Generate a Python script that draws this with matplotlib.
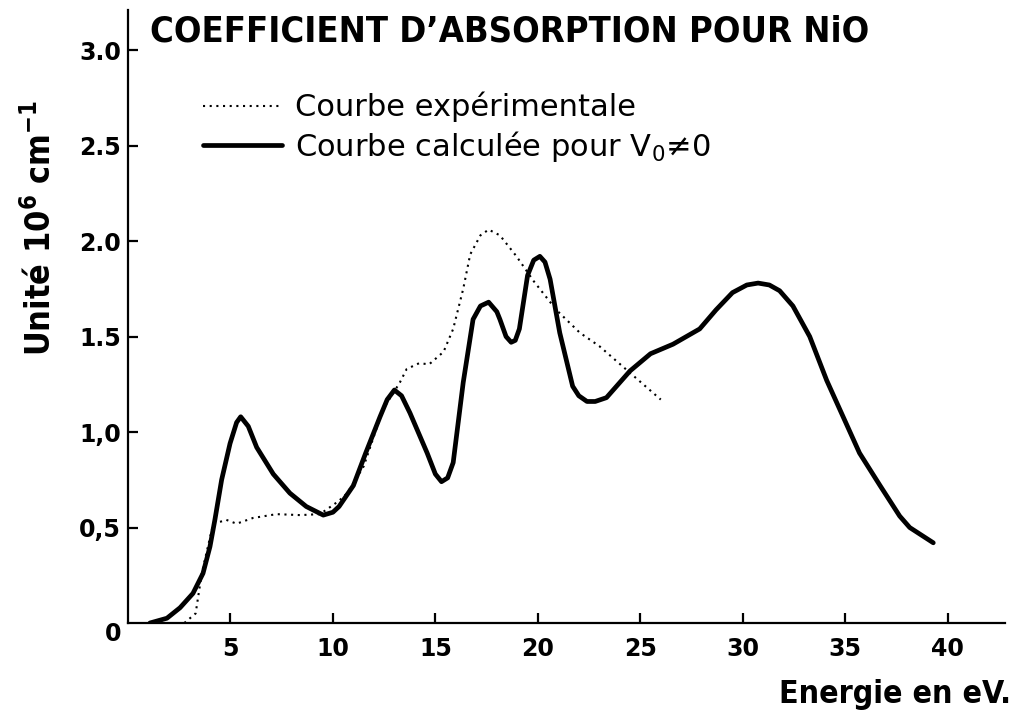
import matplotlib
matplotlib.use("Agg")
import matplotlib.pyplot as plt

# Absorption coefficient of NiO (units of 10^6 cm^-1) versus photon energy (eV)
calc_energy = [1.07, 1.9, 2.54, 3.17, 3.66, 4.0, 4.24, 4.57, 4.98, 5.3, 5.5, 5.87,
               6.28, 7.09, 7.9, 8.7, 9.53, 10.0, 10.3, 11.0, 11.6, 12.3, 12.65,
               13.0, 13.35, 13.76, 14.6, 15.0, 15.3, 15.6, 15.87, 16.36, 16.84,
               17.2, 17.6, 18.0, 18.15, 18.45, 18.7, 18.9, 19.1, 19.5, 19.8, 20.1,
               20.35, 20.6, 21.07, 21.7, 22.0, 22.4, 22.8, 23.35, 24.5, 25.5,
               26.6, 27.9, 28.7, 29.5, 30.2, 30.75, 31.3, 31.8, 32.45, 33.27,
               34.1, 34.9, 35.7, 36.7, 37.66, 38.15, 39.3]
calc_alpha = [0.0, 0.025, 0.08, 0.155, 0.26, 0.40, 0.54, 0.75, 0.94, 1.05, 1.08, 1.03,
              0.92, 0.78, 0.68, 0.61, 0.565, 0.58, 0.61, 0.72, 0.89, 1.08, 1.17,
              1.22, 1.19, 1.10, 0.89, 0.78, 0.74, 0.76, 0.84, 1.26, 1.59,
              1.66, 1.68, 1.63, 1.59, 1.50, 1.47, 1.48, 1.54, 1.82, 1.90, 1.92,
              1.89, 1.80, 1.52, 1.24, 1.19, 1.16, 1.16, 1.18, 1.32, 1.41,
              1.46, 1.54, 1.64, 1.73, 1.77, 1.78, 1.77, 1.74, 1.66, 1.50,
              1.27, 1.08, 0.89, 0.72, 0.56, 0.50, 0.42]

exp_energy = [2.75, 3.3, 3.6, 3.9, 4.16, 4.5, 4.8, 5.3, 6.1, 7.25, 8.4, 9.37,
              10.3, 10.7, 11.5, 12.45, 13.27, 13.6, 14.2, 14.7, 15.4, 15.87,
              16.36, 16.7, 17.2, 17.6, 18.15, 18.96, 19.8, 20.9, 22.05, 23.0,
              24.5, 26.0]
exp_alpha = [0.0, 0.05, 0.26, 0.40, 0.52, 0.53, 0.54, 0.52, 0.55, 0.57, 0.565, 0.57,
             0.64, 0.68, 0.82, 1.12, 1.26, 1.33, 1.36, 1.355, 1.42, 1.54,
             1.75, 1.93, 2.03, 2.06, 2.03, 1.92, 1.79, 1.64, 1.52, 1.45,
             1.31, 1.17]

x_ticks = [5, 10, 15, 20, 25, 30, 35, 40]
x_tick_labels = ["5", "10", "15", "20", "25", "30", "35", "40"]
y_ticks = [0.5, 1.0, 1.5, 2.0, 2.5, 3.0]
y_tick_labels = ["0,5", "1,0", "1.5", "2.0", "2.5", "3.0"]

title = "COEFFICIENT D\u2019ABSORPTION POUR NiO"
label_exp = "Courbe expérimentale"
label_calc = r"Courbe calculée pour V$_0$≠0"

plt.rcParams["mathtext.default"] = "regular"
plt.rcParams["font.family"] = ["DejaVu Sans"]

W, H = 1017, 718
fig = plt.figure(figsize=(W / 100, H / 100), dpi=100)
left, bottom, right, top = 128, 95, 1005, 10
ax = fig.add_axes([left / W, bottom / H, (right - left) / W, (H - bottom - top) / H])

ax.plot(exp_energy, exp_alpha, color="black", lw=1.5, linestyle=(0, (1, 2.2)),
        label=label_exp)
ax.plot(calc_energy, calc_alpha, color="black", lw=3.4, solid_capstyle="round",
        solid_joinstyle="round", label=label_calc)

ax.set_xlim(0, 42.8)
ax.set_ylim(0, 3.21)

for s in ("top", "right"):
    ax.spines[s].set_visible(False)
for s in ("left", "bottom"):
    ax.spines[s].set_linewidth(1.6)

ax.set_xticks(x_ticks)
ax.set_xticklabels(x_tick_labels, fontsize=17, fontweight="bold")
ax.set_yticks(y_ticks)
ax.set_yticklabels(y_tick_labels, fontsize=17, fontweight="bold")
ax.tick_params(axis="x", direction="in", length=7, width=1.6, pad=10)
ax.tick_params(axis="y", direction="in", length=7, width=1.6, pad=5)
ax.text(-0.75, -0.06, "0", fontsize=17, fontweight="bold", ha="center", va="center")

fig.text(150 / W, 1 - 42 / H, title, fontsize=26, fontweight="bold",
         fontstretch="condensed", ha="left", va="baseline")

fig.text(40 / W, 1 - 228 / H, "Unité 10$^6$ cm$^{-1}$", fontsize=24.5,
         fontweight="bold", fontstretch="condensed", rotation=90,
         ha="center", va="center")

fig.text(1011 / W, 1 - 703 / H, "Energie en eV.", fontsize=23, fontweight="bold",
         fontstretch="condensed", ha="right", va="baseline")

leg = ax.legend(loc="upper left", bbox_to_anchor=(203 / W, 1 - 92 / H),
                bbox_transform=fig.transFigure, frameon=False, fontsize=22,
                handlelength=2.6, handletextpad=0.4, labelspacing=0.2,
                borderpad=0, borderaxespad=0)

fig.savefig("out.png", dpi=100)
